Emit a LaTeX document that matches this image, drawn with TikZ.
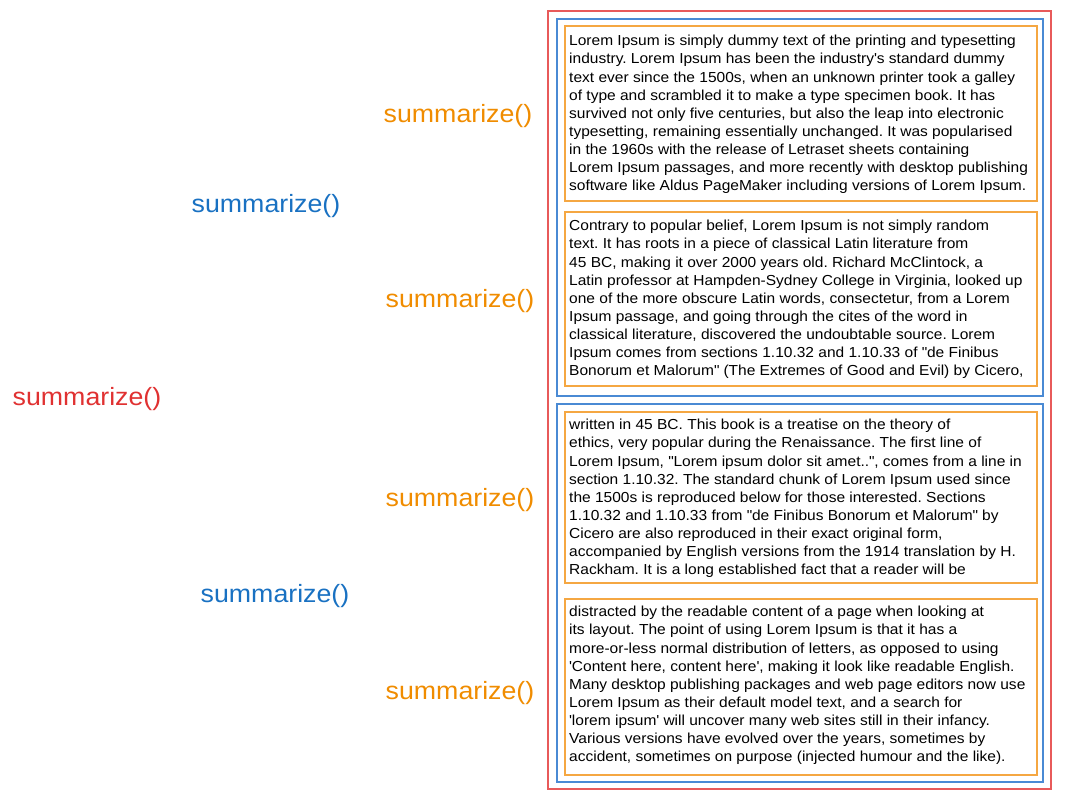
\documentclass[tikz,border=0pt]{standalone}
\usepackage{fontspec}
\setmainfont{Liberation Sans}[FakeStretch=1.07]
\definecolor{exred}{HTML}{E03131}
\definecolor{exblue}{HTML}{1971C2}
\definecolor{exorange}{HTML}{F08C00}
\definecolor{boxorange}{HTML}{F5A742}
\definecolor{boxblue}{HTML}{4A8AD4}
\definecolor{boxred}{HTML}{E85A5A}
\newcommand{\dq}{\textquotedbl}
\newcommand{\sq}{\textquotesingle}
\tikzset{
  chunk/.style={anchor=north west, inner sep=0pt, align=left,
    font=\fontsize{14.5}{18.15}\selectfont\frenchspacing},
  call/.style={inner sep=0pt, font=\fontsize{25}{28}\selectfont}
}
\begin{document}
\begin{tikzpicture}[x=1pt,y=-1pt]
	\useasboundingbox (0,0) rectangle (1072,802);
	\path
	coordinate (red1) at (548,11)
	coordinate (red2) at (1051,789)
	coordinate (blu1) at (557,19)
	coordinate (blu2) at (1043,396)
	coordinate (blu3) at (557,404)
	coordinate (blu4) at (1043,782)
	coordinate (org1) at (565,26)
	coordinate (org2) at (1037,201)
	coordinate (org3) at (565,212)
	coordinate (org4) at (1037,386)
	coordinate (org5) at (565,412)
	coordinate (org6) at (1037,583)
	coordinate (org7) at (565,599)
	coordinate (org8) at (1037,775)
	;
\draw[boxred, line width=1.2pt] (red1) rectangle (red2);
\draw[boxblue, line width=1.2pt] (blu1) rectangle (blu2);
\draw[boxblue, line width=1.2pt] (blu3) rectangle (blu4);
\draw[boxorange, line width=1.2pt] (org1) rectangle (org2);
\draw[boxorange, line width=1.2pt] (org3) rectangle (org4);
\draw[boxorange, line width=1.2pt] (org5) rectangle (org6);
\draw[boxorange, line width=1.2pt] (org7) rectangle (org8);
	\node[chunk] (txt1) at (569,35) {Lorem Ipsum is simply dummy text of the printing and typesetting\\
industry. Lorem Ipsum has been the industry\sq s standard dummy\\
text ever since the 1500s, when an unknown printer took a galley\\
of type and scrambled it to make a type specimen book. It has\\
survived not only five centuries, but also the leap into electronic\\
typesetting, remaining essentially unchanged. It was popularised\\
in the 1960s with the release of Letraset sheets containing\\
Lorem Ipsum passages, and more recently with desktop publishing\\
software like Aldus PageMaker including versions of Lorem Ipsum.};
	\node[chunk] (txt2) at (569,220) {Contrary to popular belief, Lorem Ipsum is not simply random\\
text. It has roots in a piece of classical Latin literature from\\
45 BC, making it over 2000 years old. Richard McClintock, a\\
Latin professor at Hampden-Sydney College in Virginia, looked up\\
one of the more obscure Latin words, consectetur, from a Lorem\\
Ipsum passage, and going through the cites of the word in\\
classical literature, discovered the undoubtable source. Lorem\\
Ipsum comes from sections 1.10.32 and 1.10.33 of \dq de Finibus\\
Bonorum et Malorum\dq{} (The Extremes of Good and Evil) by Cicero,};
	\node[chunk] (txt3) at (569,419) {written in 45 BC. This book is a treatise on the theory of\\
ethics, very popular during the Renaissance. The first line of\\
Lorem Ipsum, \dq Lorem ipsum dolor sit amet..\dq, comes from a line in\\
section 1.10.32. The standard chunk of Lorem Ipsum used since\\
the 1500s is reproduced below for those interested. Sections\\
1.10.32 and 1.10.33 from \dq de Finibus Bonorum et Malorum\dq{} by\\
Cicero are also reproduced in their exact original form,\\
accompanied by English versions from the 1914 translation by H.\\
Rackham. It is a long established fact that a reader will be};
	\node[chunk] (txt4) at (569,606) {distracted by the readable content of a page when looking at\\
its layout. The point of using Lorem Ipsum is that it has a\\
more-or-less normal distribution of letters, as opposed to using\\
\sq Content here, content here\sq, making it look like readable English.\\
Many desktop publishing packages and web page editors now use\\
Lorem Ipsum as their default model text, and a search for\\
\sq lorem ipsum\sq{} will uncover many web sites still in their infancy.\\
Various versions have evolved over the years, sometimes by\\
accident, sometimes on purpose (injected humour and the like).};
	\node[call, exorange] (sum1) at (458,116) {summarize()};
	\node[call, exorange] (sum2) at (460,301) {summarize()};
	\node[call, exorange] (sum3) at (460,500) {summarize()};
	\node[call, exorange] (sum4) at (460,693) {summarize()};
	\node[call, exblue] (sum5) at (266,206) {summarize()};
	\node[call, exblue] (sum6) at (275,596) {summarize()};
	\node[call, exred] (sum7) at (87,399) {summarize()};
\end{tikzpicture}
\end{document}
